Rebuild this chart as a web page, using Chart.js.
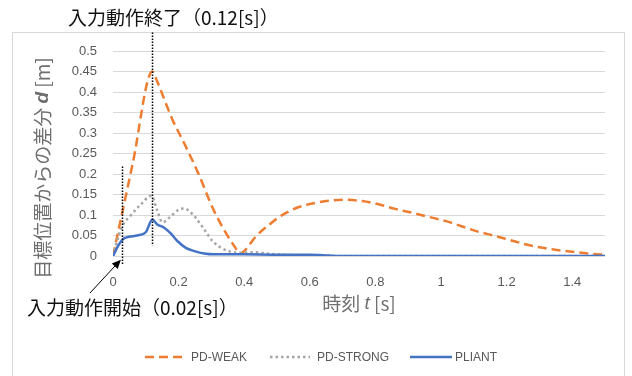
<!DOCTYPE html>
<html>
<head>
<meta charset="utf-8">
<script src="https://cdn.jsdelivr.net/npm/chart.js"></script>
<style>
    body { margin: 0; background: #fff; }
    #wrap { width: 632px; height: 376px; position: relative; }
</style>
</head>
<body>
<div id="wrap"><canvas id="grafico"></canvas></div>
<script>
// ====================================================================
// DADOS
// ====================================================================
const xTicks = [0, 0.2, 0.4, 0.6, 0.8, 1, 1.2, 1.4];
const yTicks = [0, 0.05, 0.1, 0.15, 0.2, 0.25, 0.3, 0.35, 0.4, 0.45, 0.5];

const weakT = [0, 0.06, 0.12, 0.135, 0.18, 0.22, 0.261, 0.304, 0.345, 0.37, 0.388, 0.40, 0.436, 0.477, 0.518, 0.569, 0.62, 0.67, 0.71, 0.76, 0.81, 0.86, 0.915, 0.965, 1.015, 1.065, 1.11, 1.16, 1.21, 1.26, 1.31, 1.36, 1.415, 1.465, 1.5];
const weakD = [0, 0.225, 0.45, 0.425, 0.335, 0.27, 0.2, 0.117, 0.055, 0.024, 0.006, 0.012, 0.048, 0.077, 0.101, 0.12, 0.13, 0.136, 0.137, 0.134, 0.126, 0.115, 0.105, 0.095, 0.085, 0.072, 0.06, 0.05, 0.039, 0.028, 0.02, 0.014, 0.009, 0.005, 0.003];

const strongT = [0, 0.008, 0.028, 0.054, 0.085, 0.117, 0.134, 0.151, 0.171, 0.2, 0.217, 0.248, 0.278, 0.304, 0.33, 0.36, 0.39, 0.43, 0.47, 0.52, 0.6, 0.7, 1.0, 1.5];
const strongD = [0, 0.025, 0.073, 0.099, 0.126, 0.147, 0.113, 0.082, 0.093, 0.113, 0.116, 0.097, 0.065, 0.036, 0.02, 0.01, 0.008, 0.009, 0.006, 0.003, 0.001, 0, 0, 0];

const pliantT = [0, 0.018, 0.034, 0.049, 0.074, 0.1, 0.12, 0.135, 0.156, 0.176, 0.197, 0.222, 0.248, 0.278, 0.31, 0.4, 0.5, 0.6, 0.64, 0.68, 1.0, 1.5];
const pliantD = [0, 0.028, 0.043, 0.047, 0.05, 0.058, 0.089, 0.077, 0.069, 0.055, 0.036, 0.02, 0.012, 0.006, 0.004, 0.004, 0.003, 0.003, 0.002, 0, 0, 0];

const pares = (ts, ds) => ts.map((t, i) => ({ x: t, y: ds[i] }));

const fonteJP = '"Noto Sans CJK JP", "Noto Sans", sans-serif';
const corTexto = '#595959';

// legenda desenhada à mão para ficar na posição do original
const legendaPlugin = {
    id: 'legendaManual',
    afterDraw(chart) {
        const ctx = chart.ctx;
        const itens = [
            { ds: 0, x1: 145, x2: 187, tx: 191 },
            { ds: 1, x1: 270, x2: 310, tx: 317 },
            { ds: 2, x1: 410, x2: 452, tx: 455 }
        ];
        const y = 357;
        ctx.save();
        itens.forEach(it => {
            const d = chart.data.datasets[it.ds];
            ctx.strokeStyle = d.borderColor;
            ctx.lineWidth = d.borderWidth;
            ctx.setLineDash(d.borderDash || []);
            ctx.beginPath();
            ctx.moveTo(it.x1, y);
            ctx.lineTo(it.x2, y);
            ctx.stroke();
            ctx.setLineDash([]);
            ctx.fillStyle = corTexto;
            ctx.font = '12px "Liberation Sans", Arial, sans-serif';
            ctx.textBaseline = 'middle';
            ctx.textAlign = 'left';
            ctx.fillText(d.label, it.tx, y + 1);
        });
        ctx.restore();
    }
};

// moldura, títulos dos eixos e anotações
const anotacoesPlugin = {
    id: 'anotacoes',
    beforeDraw(chart) {
        const ctx = chart.ctx;
        ctx.save();
        ctx.fillStyle = '#fff';
        ctx.fillRect(0, 0, chart.width, chart.height);
        ctx.strokeStyle = '#d9d9d9';
        ctx.lineWidth = 1;
        ctx.strokeRect(12.5, 32.5, 612, 400);
        ctx.restore();
    },
    afterDraw(chart) {
        const ctx = chart.ctx;
        const xs = chart.scales.x, ys = chart.scales.y;
        ctx.save();

        // texto misto (normal + itálico)
        function textoMisto(partes, x, y) {
            let total = 0;
            partes.forEach(p => { ctx.font = p.f; total += ctx.measureText(p.t).width; });
            let cx = x - total / 2;
            partes.forEach(p => {
                ctx.font = p.f;
                ctx.fillText(p.t, cx, y);
                cx += ctx.measureText(p.t).width;
            });
        }

        ctx.fillStyle = '#6f6f6f';
        ctx.textBaseline = 'middle';
        ctx.textAlign = 'left';
        textoMisto([
            { t: '時刻 ', f: '19px ' + fonteJP },
            { t: 't', f: 'italic 19px "Liberation Sans", sans-serif' },
            { t: ' [s]', f: '19px ' + fonteJP }
        ], 359, 304);

        ctx.save();
        ctx.translate(43, 168);
        ctx.rotate(-Math.PI / 2);
        textoMisto([
            { t: '目標位置からの差分 ', f: '19px ' + fonteJP },
            { t: 'd', f: 'italic bold 19px "Liberation Sans", sans-serif' },
            { t: ' [m]', f: '19px ' + fonteJP }
        ], 0, 0);
        ctx.restore();

        // linhas pontilhadas verticais
        ctx.strokeStyle = '#000';
        ctx.lineWidth = 1.5;
        ctx.setLineDash([1.5, 1.5]);
        const xFim = Math.round(xs.getPixelForValue(0.12)) + 0.5;
        ctx.beginPath();
        ctx.moveTo(xFim, ys.getPixelForValue(0.545));
        ctx.lineTo(xFim, ys.getPixelForValue(0.025));
        ctx.stroke();
        const xIni = Math.round(xs.getPixelForValue(0.027)) + 0.5;
        ctx.beginPath();
        ctx.moveTo(xIni, ys.getPixelForValue(0.218));
        ctx.lineTo(xIni, ys.getPixelForValue(-0.021));
        ctx.stroke();
        ctx.setLineDash([]);

        // seta
        const hx = xs.getPixelForValue(0.024), hy = ys.getPixelForValue(-0.009);
        const tx = 90, ty = 293;
        const ang = Math.atan2(hy - ty, hx - tx);
        ctx.lineWidth = 1;
        ctx.beginPath();
        ctx.moveTo(tx, ty);
        ctx.lineTo(hx - 6 * Math.cos(ang), hy - 6 * Math.sin(ang));
        ctx.stroke();
        ctx.fillStyle = '#000';
        ctx.beginPath();
        ctx.moveTo(hx, hy);
        ctx.lineTo(hx - 9 * Math.cos(ang) + 4 * Math.sin(ang), hy - 9 * Math.sin(ang) - 4 * Math.cos(ang));
        ctx.lineTo(hx - 9 * Math.cos(ang) - 4 * Math.sin(ang), hy - 9 * Math.sin(ang) + 4 * Math.cos(ang));
        ctx.closePath();
        ctx.fill();

        // textos das anotações
        ctx.fillStyle = '#111';
        ctx.font = '19px ' + fonteJP;
        ctx.textAlign = 'left';
        ctx.textBaseline = 'middle';
        ctx.fillText('入力動作終了（0.12[s]）', 68, 18);
        ctx.fillText('入力動作開始（0.02[s]）', 27, 308);
        ctx.restore();
    }
};

const ctx = document.getElementById('grafico').getContext('2d');

new Chart(ctx, {
    type: 'line',
    data: {
        datasets: [{
            label: 'PD-WEAK',
            data: pares(weakT, weakD),
            borderColor: '#ED7D31',
            borderWidth: 2.5,
            borderDash: [9, 5],
            order: 2
        }, {
            label: 'PD-STRONG',
            data: pares(strongT, strongD),
            borderColor: '#A5A5A5',
            borderWidth: 2.5,
            borderDash: [2.5, 3],
            order: 1
        }, {
            label: 'PLIANT',
            data: pares(pliantT, pliantD),
            borderColor: '#4472C4',
            borderWidth: 2.5,
            order: 0
        }]
    },
    options: {
        responsive: true,
        maintainAspectRatio: false,
        animation: false,
        devicePixelRatio: 1,
        layout: { padding: { left: 0, top: 51, right: 27, bottom: 0 } },
        elements: {
            point: { radius: 0 },
            line: { cubicInterpolationMode: 'monotone', fill: false }
        },
        scales: {
            x: {
                type: 'linear',
                min: 0,
                max: 1.5,
                afterFit: s => { s.height = 120; },
                afterBuildTicks: s => { s.ticks = xTicks.map(v => ({ value: v })); },
                grid: { display: false },
                border: { display: false },
                ticks: {
                    color: corTexto,
                    font: { family: '"Liberation Sans", Arial, sans-serif', size: 13 },
                    padding: 11,
                    maxRotation: 0,
                    callback: v => String(+v.toFixed(2))
                }
            },
            y: {
                min: 0,
                max: 0.5,
                afterFit: s => { s.width = 113; },
                afterBuildTicks: s => { s.ticks = yTicks.map(v => ({ value: v })); },
                grid: { color: '#d9d9d9', lineWidth: 1, drawTicks: false },
                border: { display: false },
                ticks: {
                    color: corTexto,
                    font: { family: '"Liberation Sans", Arial, sans-serif', size: 13 },
                    padding: 16,
                    callback: v => String(+v.toFixed(2))
                }
            }
        },
        plugins: {
            legend: { display: false },
            tooltip: { enabled: false }
        }
    },
    plugins: [anotacoesPlugin, legendaPlugin]
});
</script>
</body>
</html>
